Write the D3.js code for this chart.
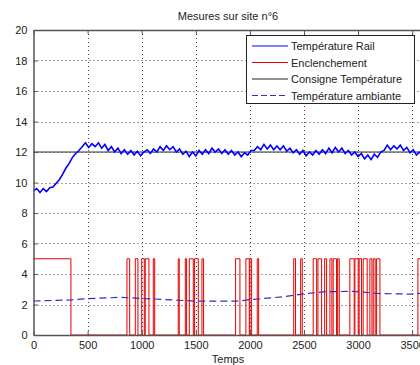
<!DOCTYPE html>
<html>
<head>
<meta charset="utf-8">
<script src="https://cdn.jsdelivr.net/npm/d3@7"></script>
<style>
  body { margin: 0; background: #fff; overflow: hidden; }
  svg { display: block; font-family: "Liberation Sans", Arial, sans-serif; }
</style>
</head>
<body>
<svg id="chart" width="420" height="365"></svg>
<script>
// x ticks / y ticks
const xTicks = [0, 500, 1000, 1500, 2000, 2500, 3000, 3500];
const yTicks = [0, 2, 4, 6, 8, 10, 12, 14, 16, 18, 20];

// Température Rail, sampled every 30 s
const railStep = 30;
const railValues = [
  9.45, 9.6, 9.35, 9.6, 9.4, 9.65, 9.7, 9.95, 10.2, 10.55,
  10.95, 11.25, 11.65, 11.9, 12.1, 12.35, 12.6, 12.3, 12.55, 12.35,
  12.6, 12.25, 12.5, 12.1, 12.35, 12.0, 12.25, 11.9, 12.15, 11.85,
  12.1, 11.8, 12.05, 11.75, 12.0, 12.15, 11.9, 12.2, 12.0, 12.35,
  12.1, 12.4, 12.15, 12.35, 12.0, 12.2, 11.85, 12.05, 11.7, 12.0,
  11.75, 12.1, 11.85, 12.15, 11.9, 12.25, 12.0, 12.2, 11.9, 12.15,
  11.85, 12.1, 11.8, 12.0, 11.7, 11.95, 11.8, 12.1, 12.1, 12.35,
  12.15, 12.5, 12.2, 12.45, 12.15, 12.4, 12.15, 12.4, 12.05, 12.25,
  11.95, 12.15, 11.85, 12.1, 11.75, 12.0, 11.8, 12.1, 11.85, 12.15,
  11.9, 12.25, 11.95, 12.3, 12.0, 12.25, 11.9, 12.1, 11.8, 12.0,
  11.7, 11.9, 11.55, 11.8, 11.5, 11.85, 11.65, 12.0, 12.1, 12.45,
  12.15, 12.4, 12.2, 12.45, 12.1, 12.3, 11.95, 12.15, 11.8, 12.0,
  11.8
];

// Enclenchement: on/off switching times, level when on
const enclOn  = [0, 864, 941, 1000, 1033, 1107, 1338, 1403, 1440, 1489, 1557, 1868, 1963, 2000, 2068, 2405, 2469, 2585, 2629, 2691, 2740, 2770, 2811, 2924, 2971, 3010, 3047, 3109, 3140, 3171, 3553];
const enclOff = [346, 889, 965, 1024, 1067, 1120, 1347, 1415, 1477, 1523, 1572, 1908, 1994, 2016, 2081, 2422, 2484, 2617, 2663, 2709, 2758, 2801, 2826, 2964, 3001, 3032, 3084, 3128, 3158, 3202, 3600];
const enclLevel = 5;

// Consigne Température
const consigne = 12;

// Température ambiante
const ambTimes  = [0, 350, 500, 800, 1000, 1200, 1500, 1900, 2000, 2300, 2500, 2700, 2950, 3200, 3500, 3600];
const ambValues = [2.23, 2.3, 2.38, 2.47, 2.4, 2.33, 2.22, 2.22, 2.32, 2.5, 2.7, 2.84, 2.86, 2.72, 2.68, 2.75];

const legendLabels = ["Température Rail", "Enclenchement", "Consigne Température", "Température ambiante"];

const margin = {left: 33.5, top: 30, right: 423, bottom: 335};
const svg = d3.select("#chart");

const x = d3.scaleLinear().domain([0, 3600]).range([margin.left, margin.right]);
const y = d3.scaleLinear().domain([0, 20]).range([margin.bottom, margin.top]);

// grid
const grid = svg.append("g").attr("stroke", "#444").attr("stroke-dasharray", "1,3").attr("stroke-width", 1);
grid.selectAll("line.gx")
  .data(xTicks.filter(d => d > 0))
  .enter().append("line")
    .attr("x1", d => Math.round(x(d)) + 0.5).attr("x2", d => Math.round(x(d)) + 0.5)
    .attr("y1", margin.top).attr("y2", margin.bottom);
grid.selectAll("line.gy")
  .data(yTicks.filter(d => d > 0 && d < 20))
  .enter().append("line")
    .attr("y1", d => Math.round(y(d)) + 0.5).attr("y2", d => Math.round(y(d)) + 0.5)
    .attr("x1", margin.left).attr("x2", margin.right);

const plot = svg.append("g");

// Enclenchement step line
const enclPts = [];
enclOn.forEach((t, i) => {
  enclPts.push([t, enclLevel]);
  enclPts.push([enclOff[i], 0]);
});
plot.append("path")
  .datum(enclPts)
  .attr("fill", "none")
  .attr("stroke", "#e60000")
  .attr("stroke-width", 1)
  .attr("d", d3.line().x(d => x(d[0])).y(d => y(d[1])).curve(d3.curveStepAfter));

// ambient
plot.append("path")
  .datum(ambTimes.map((t, i) => [t, ambValues[i]]))
  .attr("fill", "none")
  .attr("stroke", "#3030c0")
  .attr("stroke-width", 1.2)
  .attr("stroke-dasharray", "7,4")
  .attr("d", d3.line().x(d => x(d[0])).y(d => y(d[1])));

// consigne
plot.append("line")
  .attr("x1", x(0)).attr("x2", x(3600))
  .attr("y1", y(consigne)).attr("y2", y(consigne))
  .attr("stroke", "#333").attr("stroke-width", 1.2);

// rail temperature
plot.append("path")
  .datum(railValues.map((v, i) => [i * railStep, v]))
  .attr("fill", "none")
  .attr("stroke", "#0000ff")
  .attr("stroke-width", 1.6)
  .attr("d", d3.line().x(d => x(d[0])).y(d => y(d[1])));

// axes (MATLAB style, ticks inward)
const axisColor = "#555";
const xAxis = svg.append("g")
  .attr("transform", "translate(0," + margin.bottom + ")")
  .call(d3.axisBottom(x).tickValues(xTicks).tickFormat(d3.format("d")).tickSizeInner(-4).tickSizeOuter(0).tickPadding(6));
const yAxis = svg.append("g")
  .attr("transform", "translate(" + margin.left + ",0)")
  .call(d3.axisLeft(y).tickValues(yTicks).tickSizeInner(-4).tickSizeOuter(0).tickPadding(6));
const xTop = svg.append("g")
  .attr("transform", "translate(0," + margin.top + ")")
  .call(d3.axisTop(x).tickValues(xTicks).tickSizeInner(-4).tickSizeOuter(0).tickFormat(""));
[xAxis, yAxis, xTop].forEach(g => {
  g.select(".domain").attr("stroke", axisColor).attr("stroke-width", 1.5);
  g.selectAll(".tick line").attr("stroke", axisColor);
  g.selectAll("text").attr("fill", "#222").style("font-size", "11px");
});

// title & label
svg.append("text")
  .attr("x", 228).attr("y", 20)
  .attr("text-anchor", "middle")
  .style("font-size", "11px").attr("fill", "#222")
  .text("Mesures sur site n°6");
svg.append("text")
  .attr("x", 228).attr("y", 363)
  .attr("text-anchor", "middle")
  .style("font-size", "11px").attr("fill", "#222")
  .text("Temps");

// legend
const legend = svg.append("g");
legend.append("rect")
  .attr("x", 246.5).attr("y", 35.5).attr("width", 168).attr("height", 68)
  .attr("fill", "#fff").attr("stroke", "#222").attr("stroke-width", 1);
const legStyles = [
  {color: "#0000ff", dash: null},
  {color: "#e60000", dash: null},
  {color: "#222", dash: null},
  {color: "#3030c0", dash: "6,3"}
];
legendLabels.forEach((lab, i) => {
  const ly = 46 + i * 16.5;
  legend.append("line")
    .attr("x1", 252).attr("x2", 288).attr("y1", ly).attr("y2", ly)
    .attr("stroke", legStyles[i].color).attr("stroke-width", 1)
    .attr("stroke-dasharray", legStyles[i].dash);
  legend.append("text")
    .attr("x", 291).attr("y", ly + 4)
    .style("font-size", "11px").attr("fill", "#222")
    .text(lab);
});
</script>
</body>
</html>
